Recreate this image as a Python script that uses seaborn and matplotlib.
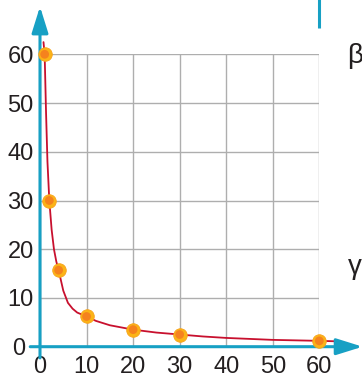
import matplotlib
matplotlib.use('Agg')
import matplotlib.pyplot as plt
import seaborn as sns
import pandas as pd

# data
x_pts = [1, 2, 4, 10, 20, 30, 60]
y_pts = [60, 30, 15.7, 6.2, 3.5, 2.5, 1.2]

x_curve = [0.75, 1, 1.3, 1.6, 2, 2.5, 3, 3.5, 4, 5, 6, 7, 8, 10, 12, 15, 20, 25, 30, 35, 40, 50, 60, 64]
y_curve = [62.5, 60, 48, 38, 30, 24, 20, 17.5, 15.7, 11.5, 9.0, 7.8, 7.0, 6.2, 5.3, 4.4, 3.5, 2.9, 2.5, 2.1, 1.8, 1.4, 1.2, 1.1]

ticks = [0, 10, 20, 30, 40, 50, 60]

TEAL = '#17a0c4'
RED = '#c8102e'
TXT = '#231f20'

sns.set_style('white')
plt.rcParams['font.family'] = ['Liberation Sans', 'DejaVu Sans']

fig = plt.figure(figsize=(3.62, 3.81), dpi=100)
ax = fig.add_axes([40 / 362, 34.3 / 381, 279.3 / 362, 292.4 / 381])
ax.set_xlim(0, 60)
ax.set_ylim(0, 60)

for s in ax.spines.values():
    s.set_visible(False)

ax.set_xticks(ticks)
ax.set_yticks(ticks)
ax.grid(True, color='#aeaeae', lw=1.0)
ax.tick_params(axis='both', colors=TEAL, direction='inout', length=9, width=2,
               labelsize=17, labelcolor=TXT)
ax.tick_params(axis='y', pad=0)
ax.tick_params(axis='x', pad=2)

# the "0" on the y axis sits a bit further left
ax.get_yticklabels()[0].set_x(-0.03)

# axes with arrows
arr = dict(arrowstyle='-|>,head_length=1.6,head_width=0.5', color=TEAL, lw=2.2,
           shrinkA=0, shrinkB=0, mutation_scale=10)
ax.annotate('', xy=(0, 69.8), xytext=(0, -2.3), arrowprops=arr, annotation_clip=False)
ax.annotate('', xy=(69.3, 0), xytext=(-2.1, 0), arrowprops=arr, annotation_clip=False)

# small teal bar at the top
ax.plot([60, 60], [65.3, 72], color=TEAL, lw=2.2, clip_on=False, solid_capstyle='butt')

curve = pd.DataFrame({'x': x_curve, 'y': y_curve})
sns.lineplot(data=curve, x='x', y='y', color=RED, lw=1.3, sort=False, ax=ax)
for l in ax.lines:
    l.set_clip_on(False)

pts = pd.DataFrame({'x': x_pts, 'y': y_pts})
sns.scatterplot(data=pts, x='x', y='y', s=95, color='#fbb416', edgecolor='#f8a21a',
                linewidth=0.6, ax=ax, zorder=5, clip_on=False)
sns.scatterplot(data=pts, x='x', y='y', s=40, color='#f47a20', edgecolor='none',
                alpha=0.85, ax=ax, zorder=6, clip_on=False)

ax.set_xlabel('')
ax.set_ylabel('')

ax.text(67.6, 59.6, 'β', fontsize=20, color=TXT, ha='center', va='center')
ax.text(67.6, 16.3, 'γ', fontsize=20, color=TXT, ha='center', va='center')

fig.savefig('out.png', dpi=100)
